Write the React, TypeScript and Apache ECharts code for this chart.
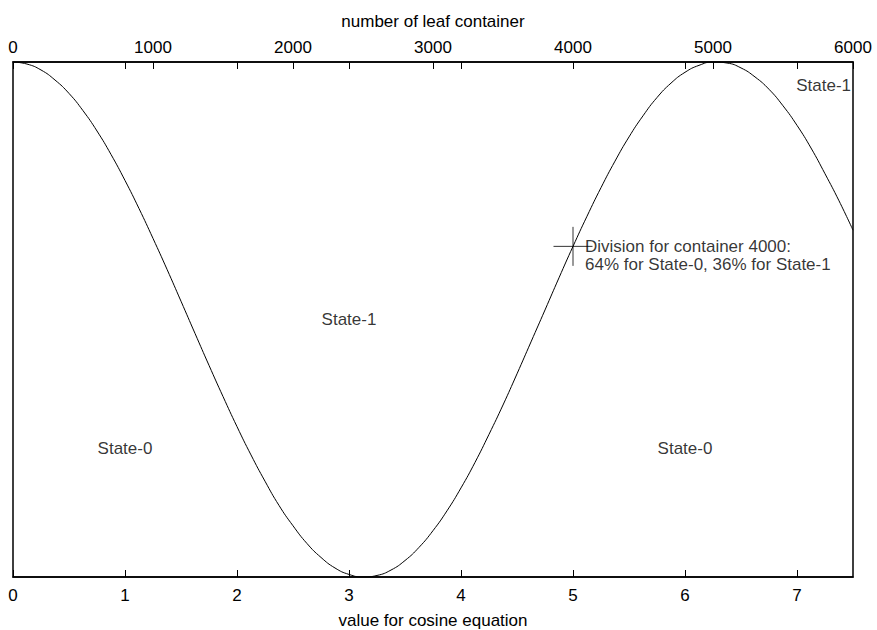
import React, { useEffect, useRef } from "react";
import * as echarts from "echarts";

// x positions (value for cosine equation) and curve values
const curveX = [
  0, 0.125, 0.25, 0.375, 0.5, 0.625, 0.75, 0.875, 1.0, 1.125, 1.25, 1.375, 1.5, 1.625, 1.75, 1.875,
  2.0, 2.125, 2.25, 2.375, 2.5, 2.625, 2.75, 2.875, 3.0, 3.125, 3.25, 3.375, 3.5, 3.625, 3.75, 3.875,
  4.0, 4.125, 4.25, 4.375, 4.5, 4.625, 4.75, 4.875, 5.0, 5.125, 5.25, 5.375, 5.5, 5.625, 5.75, 5.875,
  6.0, 6.125, 6.25, 6.375, 6.5, 6.625, 6.75, 6.875, 7.0, 7.125, 7.25, 7.375, 7.5,
];
const curveY = [
  1.0, 0.992, 0.969, 0.93, 0.878, 0.811, 0.732, 0.641, 0.54, 0.431, 0.315, 0.195, 0.071, -0.054, -0.178, -0.299,
  -0.416, -0.526, -0.628, -0.722, -0.801, -0.87, -0.924, -0.965, -0.99, -1.0, -0.994, -0.973, -0.936, -0.885, -0.82, -0.743,
  -0.654, -0.555, -0.446, -0.332, -0.211, -0.087, 0.037, 0.162, 0.284, 0.401, 0.512, 0.615, 0.709, 0.791, 0.862, 0.918,
  0.96, 0.987, 1.0, 0.996, 0.977, 0.942, 0.894, 0.83, 0.754, 0.666, 0.566, 0.461, 0.347,
];

const bottomTicks = { min: 0, max: 7.5, interval: 1 };
const topTicks = { min: 0, max: 6000, interval: 1000 };

const bottomTitle = "value for cosine equation";
const topTitle = "number of leaf container";

// annotation labels: [x, y, text, align]
const stateLabels: [number, number, string, string][] = [
  [3, 0, "State-1", "center"],
  [1, -0.5, "State-0", "center"],
  [6, -0.5, "State-0", "center"],
  [7.5, 0.91, "State-1", "right"],
];

const divisionPoint = [5, 0.284];
const divisionText = "Division for container 4000:\n64% for State-0, 36% for State-1";

const FONT = "'Liberation Sans', Arial, Helvetica, sans-serif";
const FS = 17;

export default function App() {
  const ref = useRef<HTMLDivElement>(null);
  useEffect(() => {
    document.body.style.margin = "0";
    const chart = echarts.init(ref.current!, null, { renderer: "svg" });
    const axisLine = { show: true, onZero: false, lineStyle: { color: "#000", width: 1.5 } };
    const tick = { show: true, inside: true, length: 7, lineStyle: { color: "#000", width: 1 } };
    chart.setOption({
      animation: false,
      textStyle: { fontFamily: FONT, color: "#000" },
      grid: {
        left: 13,
        right: 24,
        top: 62,
        bottom: 53,
        containLabel: false,
        outerBoundsMode: "none",
        show: true,
        borderColor: "#000",
        borderWidth: 1.5,
        backgroundColor: "transparent",
      },
      xAxis: [
        {
          type: "value",
          position: "bottom",
          ...bottomTicks,
          name: bottomTitle,
          nameLocation: "middle",
          nameGap: 35,
          nameTextStyle: { fontSize: FS, color: "#000", fontFamily: FONT },
          axisLine,
          axisTick: tick,
          axisLabel: { fontSize: FS, color: "#000", margin: 10, showMaxLabel: false, fontFamily: FONT },
          splitLine: { show: false },
        },
        {
          type: "value",
          position: "top",
          ...topTicks,
          name: topTitle,
          nameLocation: "middle",
          nameGap: 32,
          nameTextStyle: { fontSize: FS, color: "#000", fontFamily: FONT },
          axisLine,
          axisTick: tick,
          axisLabel: {
            fontSize: FS,
            color: "#000",
            margin: 6,
            fontFamily: FONT,
            formatter: (v: number) => String(v),
          },
          splitLine: { show: false },
        },
        {
          type: "value",
          position: "top",
          ...bottomTicks,
          axisLine: { show: false, onZero: false },
          axisTick: tick,
          axisLabel: { show: false },
          splitLine: { show: false },
        },
      ],
      yAxis: {
        type: "value",
        min: -1,
        max: 1,
        axisLine: { show: false },
        axisTick: { show: false },
        axisLabel: { show: false },
        splitLine: { show: false },
      },
      series: [
        {
          type: "line",
          xAxisIndex: 0,
          data: curveX.map((x, i) => [x, curveY[i]]),
          smooth: true,
          showSymbol: false,
          symbol: "none",
          lineStyle: { color: "#000", width: 1 },
          silent: true,
        },
        {
          type: "scatter",
          xAxisIndex: 0,
          silent: true,
          data: [
            {
              value: divisionPoint,
              label: {
                show: true,
                formatter: divisionText,
                position: "inside",
                align: "left",
                verticalAlign: "top",
                offset: [12, -9],
                fontSize: FS,
                lineHeight: 18,
                color: "#000",
                fontFamily: FONT,
              },
            },
          ],
          symbol: "path://M10,0L10,20M0,10L20,10",
          symbolSize: 39,
          itemStyle: { color: "none", borderColor: "#000", borderWidth: 1 },
          emphasis: { disabled: true },
        },
        {
          type: "scatter",
          xAxisIndex: 0,
          silent: true,
          symbolSize: 1,
          itemStyle: { color: "transparent" },
          emphasis: { disabled: true },
          data: stateLabels.map(([x, y, text, align]) => ({
            value: [x, y],
            label: {
              show: true,
              formatter: text,
              position: "inside",
              align,
              verticalAlign: "middle",
              offset: [align === "right" ? -2 : 0, 0],
              fontSize: FS,
              color: "#000",
              fontFamily: FONT,
            },
          })),
        },
      ],
    });
    return () => chart.dispose();
  }, []);
  return <div ref={ref} style={{ width: 877, height: 630 }} />;
}
